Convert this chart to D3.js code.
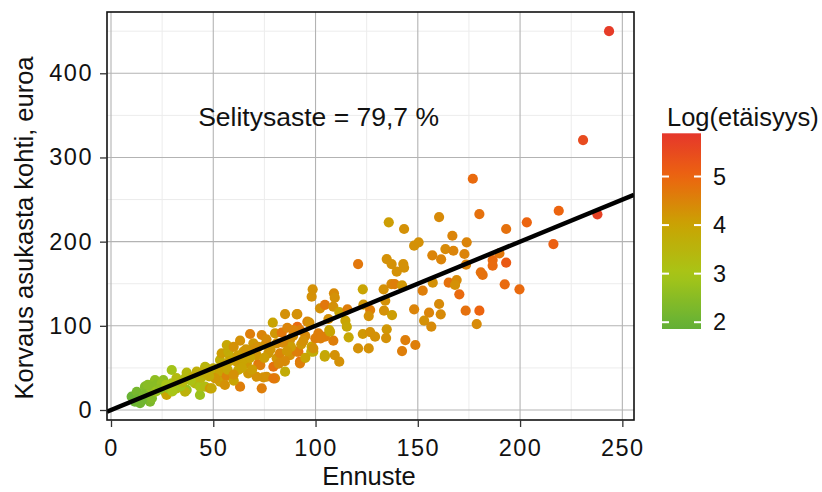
<!DOCTYPE html>
<html>
<head>
<meta charset="utf-8">
<script src="https://cdn.jsdelivr.net/npm/d3@7"></script>
<style>
  body { margin: 0; background: #fff; }
  text { font-family: "Liberation Sans", Arial, sans-serif; fill: #111; }
</style>
</head>
<body>
<svg id="chart"></svg>
<script>
// ennuste (x), toteutunut korvaus (y), log(etäisyys) (väri)
var ennuste = [
  10.1, 11.7, 14.2, 12.6, 13.0, 16.6, 19.9, 18.2, 19.1, 21.5,
  22.3, 25.6, 24.8, 16.0, 15.0, 20.0, 22.0, 26.4, 27.2, 29.7,
  29.7, 32.1, 33.7, 28.0, 30.0, 36.2, 37.0, 37.0, 36.2, 40.3,
  41.1, 41.9, 43.5, 43.5, 46.0, 46.0, 46.8, 48.4, 49.2, 50.9,
  52.5, 53.3, 39.0, 34.0, 44.0, 24.0, 18.0,
  50.0, 53.3, 50.9, 56.6, 55.7, 63.1, 73.7, 62.2, 67.1, 71.2,
  74.5, 80.2, 85.1, 76.1, 79.4, 79.4, 72.0, 53.3, 55.7, 61.5,
  66.4, 73.0, 81.0, 92.4, 54.1, 57.4, 58.2, 64.7, 71.2, 76.9,
  82.6, 87.5, 91.6, 98.1, 98.9, 104.6, 56.6, 63.1, 69.6, 75.3,
  81.0, 68.0, 73.7, 80.2, 83.5, 87.5, 101.4, 104.6, 79.1, 85.1,
  91.1, 96.0, 86.2, 91.1, 98.1, 102.2, 104.6, 90.8, 97.0, 92.4,
  99.9, 102.5, 92.4, 90.8, 97.9, 98.9, 93.0, 88.0, 95.0, 60.0,
  65.0, 70.0, 85.0, 89.0, 76.0, 95.0, 60.0, 89.2,
  58.0, 62.0, 66.0, 68.0, 72.0, 75.0, 78.0, 84.0, 86.0, 64.0,
  69.0, 57.0, 48.0, 45.0, 32.0, 27.0, 35.0, 60.0, 82.0, 94.0,
  104.5, 109.4, 111.6, 108.7, 116.2, 123.1, 126.7, 129.1, 134.8, 134.5,
  143.9, 148.8, 142.3, 120.8, 126.0, 106.7, 114.6, 115.3, 107.1, 106.3,
  108.7, 111.6, 115.6, 123.4, 126.7, 126.0, 134.1, 133.5, 137.4, 148.2,
  155.5, 160.4, 161.2, 153.1, 156.6, 173.4, 180.1, 178.8, 98.6, 109.0,
  109.4, 123.1, 133.3, 137.1, 138.7, 142.3, 152.4, 157.3, 165.1, 169.0,
  168.2, 170.3, 192.5, 199.7, 120.8, 134.8, 137.2, 142.9, 143.3, 139.7,
  135.8, 143.3, 148.2, 150.4, 160.4, 166.9, 173.9, 163.5, 167.4, 157.1,
  161.4, 172.8, 173.6, 176.9, 180.1, 189.9, 186.6, 186.6, 193.2, 180.8,
  181.7, 193.2, 203.3, 218.9, 216.3, 237.8, 230.8, 243.5
];
var korvaus = [
  15.8, 9.9, 8.0, 21.7, 13.0, 27.7, 23.8, 17.8, 9.9, 35.6,
  30.0, 35.6, 31.7, 18.0, 11.0, 14.0, 22.0, 21.7, 17.8, 31.7,
  47.5, 25.8, 31.7, 26.0, 22.0, 37.6, 23.8, 44.3, 21.7, 39.5,
  31.7, 45.5, 17.8, 27.7, 27.7, 51.4, 49.5, 25.8, 25.8, 41.6,
  41.6, 33.6, 35.0, 28.0, 38.0, 25.0, 30.0,
  49.5, 45.5, 37.6, 40.4, 29.7, 27.7, 25.8, 47.5, 43.6, 39.5,
  38.8, 37.6, 45.5, 39.5, 51.4, 37.6, 54.6, 59.4, 53.4, 57.4,
  55.4, 53.4, 61.4, 57.4, 67.3, 69.3, 63.3, 69.3, 65.3, 67.3,
  67.3, 65.3, 69.3, 75.2, 69.3, 65.3, 77.2, 82.3, 79.2, 77.2,
  79.2, 90.3, 89.1, 91.0, 91.8, 83.1, 91.0, 87.1, 103.7, 114.0,
  114.0, 104.9, 97.7, 98.9, 134.6, 120.8, 125.0, 113.7, 103.7, 95.0,
  85.1, 85.1, 55.4, 69.3, 69.3, 73.2, 78.0, 75.0, 62.0, 35.0,
  60.0, 72.0, 58.0, 88.0, 84.0, 88.0, 75.0, 95.0,
  58.0, 65.0, 72.0, 62.0, 75.0, 62.0, 72.0, 80.0, 70.0, 50.0,
  48.0, 48.0, 40.0, 45.0, 38.0, 30.0, 33.0, 42.0, 55.0, 82.0,
  63.3, 65.3, 57.4, 82.3, 86.3, 90.3, 92.6, 87.1, 95.8, 85.5,
  83.1, 77.2, 70.0, 73.2, 73.2, 95.0, 106.1, 98.9, 93.0, 108.1,
  122.7, 116.4, 119.6, 125.1, 118.8, 111.6, 129.8, 118.0, 112.8, 119.6,
  115.6, 125.9, 113.7, 106.1, 99.0, 118.0, 118.0, 102.1, 143.3, 138.6,
  133.4, 143.3, 143.3, 149.6, 149.6, 148.1, 141.7, 151.2, 151.2, 154.4,
  148.5, 137.4, 149.3, 143.3, 173.4, 179.3, 173.4, 173.4, 169.0, 164.3,
  222.9, 215.0, 195.2, 199.2, 229.2, 207.0, 199.2, 191.2, 189.2, 183.7,
  179.0, 185.3, 172.6, 274.7, 232.8, 186.0, 178.1, 171.4, 175.0, 163.5,
  160.5, 215.0, 222.9, 236.7, 197.1, 232.4, 320.7, 450.0
];
var logEtaisyys = [
  2.0, 2.0, 2.1, 2.2, 2.1, 2.4, 2.5, 2.7, 2.3, 2.6,
  2.5, 2.6, 2.7, 2.3, 2.1, 2.4, 2.8, 3.0, 4.0, 3.1,
  2.9, 3.3, 3.7, 2.7, 3.0, 3.3, 2.7, 3.4, 3.6, 3.9,
  3.4, 3.7, 2.8, 3.1, 3.3, 3.5, 3.5, 4.2, 3.9, 3.7,
  4.5, 4.1, 3.1, 2.9, 3.5, 2.6, 2.5,
  3.7, 4.0, 4.2, 4.5, 4.3, 4.6, 4.6, 3.9, 4.2, 4.3,
  4.3, 4.4, 3.8, 4.3, 4.8, 4.7, 4.7, 3.7, 4.0, 4.1,
  4.2, 4.6, 4.2, 4.8, 4.1, 3.8, 3.8, 4.1, 4.2, 4.2,
  4.5, 4.3, 4.8, 4.0, 3.9, 3.7, 3.9, 4.3, 4.2, 4.2,
  4.3, 4.6, 4.5, 4.2, 4.7, 4.3, 4.6, 4.6, 4.0, 4.3,
  4.5, 4.5, 4.5, 4.9, 4.3, 4.3, 4.7, 4.3, 4.3, 4.6,
  4.6, 4.6, 4.6, 4.6, 3.7, 4.3, 4.2, 4.1, 4.0, 4.0,
  4.0, 4.3, 4.4, 4.3, 4.4, 4.4, 4.3, 4.5,
  4.0, 4.1, 4.2, 4.0, 4.3, 4.1, 4.2, 4.4, 4.2, 4.0,
  4.1, 3.9, 3.8, 3.7, 3.3, 3.0, 3.4, 4.3, 4.4, 4.3,
  3.9, 4.3, 4.3, 4.6, 3.9, 4.2, 4.3, 4.3, 4.2, 4.3,
  4.6, 4.6, 4.6, 4.3, 4.3, 4.0, 4.0, 3.9, 4.0, 4.3,
  4.3, 4.0, 4.6, 4.2, 4.6, 4.3, 4.3, 4.3, 4.1, 4.5,
  4.5, 4.4, 4.4, 4.3, 4.4, 4.8, 5.0, 4.4, 4.3, 4.4,
  4.3, 4.0, 4.3, 4.4, 4.6, 4.2, 4.6, 4.3, 4.8, 4.4,
  4.3, 4.9, 4.9, 4.9, 4.7, 4.3, 4.3, 4.3, 4.3, 4.3,
  4.1, 4.3, 4.3, 4.3, 4.4, 4.5, 4.5, 4.4, 4.5, 4.5,
  4.5, 4.5, 4.5, 4.9, 4.8, 4.7, 4.9, 4.9, 5.2, 4.8,
  4.8, 4.8, 5.0, 5.0, 5.1, 5.7, 5.5, 5.8
];

var xTicks = [0, 50, 100, 150, 200, 250];
var yTicks = [0, 100, 200, 300, 400];
var legendTicks = [2, 3, 4, 5];
var legendRange = [1.86, 5.89];
var colorStops = [1.86, 2, 3, 4, 5, 5.89];
var colorValues = ['#63af36', '#69b334', '#a8c516', '#c9a403', '#ec640f', '#e5372b'];

var vakio = 0, kulmakerroin = 1;
var selitysaste = 79.7;

(function(){
  var width = 822, height = 492;
  var pLeft = 107, pRight = 634, pTop = 12, pBottom = 420;

  var svg = d3.select('#chart').attr('width', width).attr('height', height);

  var x = d3.scaleLinear().domain([-1.956, 255.7]).range([pLeft, pRight]);
  var y = d3.scaleLinear().domain([-11.88, 472.8]).range([pBottom, pTop]);
  var color = d3.scaleLinear().domain(colorStops).range(colorValues);

  // minor grid
  var minorX = d3.range(25, 256, 50), minorY = d3.range(50, 472, 100);
  svg.append('g').selectAll('line').data(minorX).enter().append('line')
    .attr('x1', x).attr('x2', x).attr('y1', pTop).attr('y2', pBottom)
    .attr('stroke', '#ececec').attr('stroke-width', 1);
  svg.append('g').selectAll('line').data(minorY).enter().append('line')
    .attr('y1', y).attr('y2', y).attr('x1', pLeft).attr('x2', pRight)
    .attr('stroke', '#ececec').attr('stroke-width', 1);

  // major grid
  svg.append('g').selectAll('line').data(xTicks).enter().append('line')
    .attr('x1', x).attr('x2', x).attr('y1', pTop).attr('y2', pBottom)
    .attr('stroke', '#b3b3b3').attr('stroke-width', 1.1);
  svg.append('g').selectAll('line').data(yTicks).enter().append('line')
    .attr('y1', y).attr('y2', y).attr('x1', pLeft).attr('x2', pRight)
    .attr('stroke', '#b3b3b3').attr('stroke-width', 1.1);

  svg.append('clipPath').attr('id', 'panel').append('rect')
    .attr('x', pLeft).attr('y', pTop).attr('width', pRight - pLeft).attr('height', pBottom - pTop);

  var data = ennuste.map(function(d, i){
    return { x: d, y: korvaus[i], c: logEtaisyys[i] };
  });

  svg.append('g').attr('clip-path', 'url(#panel)')
    .selectAll('circle').data(data).enter().append('circle')
    .attr('cx', function(d){ return x(d.x); })
    .attr('cy', function(d){ return y(d.y); })
    .attr('r', 5.1)
    .attr('fill', function(d){ return color(d.c); });

  // regressiosuora
  var xd = x.domain();
  svg.append('line').attr('clip-path', 'url(#panel)')
    .attr('x1', x(xd[0])).attr('y1', y(vakio + kulmakerroin * xd[0]))
    .attr('x2', x(xd[1])).attr('y2', y(vakio + kulmakerroin * xd[1]))
    .attr('stroke', '#000').attr('stroke-width', 4.5);

  svg.append('text')
    .attr('x', x(101.5)).attr('y', y(337.5))
    .attr('text-anchor', 'middle').style('font-size', '26.5px')
    .text('Selitysaste = ' + String(selitysaste).replace('.', ',') + ' %');

  // panel border
  svg.append('rect').attr('x', pLeft).attr('y', pTop)
    .attr('width', pRight - pLeft).attr('height', pBottom - pTop)
    .attr('fill', 'none').attr('stroke', '#111').attr('stroke-width', 1.6);

  var xAxis = svg.append('g').attr('transform', 'translate(0,' + pBottom + ')')
    .call(d3.axisBottom(x).tickValues(xTicks).tickSize(7).tickPadding(12));
  var yAxis = svg.append('g').attr('transform', 'translate(' + pLeft + ',0)')
    .call(d3.axisLeft(y).tickValues(yTicks).tickSize(7).tickPadding(7));
  [xAxis, yAxis].forEach(function(g){
    g.select('.domain').remove();
    g.selectAll('.tick line').attr('stroke', '#333').attr('stroke-width', 1.3);
    g.selectAll('.tick text').attr('fill', '#111')
      .style('font-family', '"Liberation Sans", Arial, sans-serif')
      .style('font-size', '23.5px').style('letter-spacing', '1.5px');
  });

  svg.append('text').attr('x', 369).attr('y', 485)
    .attr('text-anchor', 'middle').style('font-size', '25.5px').text('Ennuste');
  svg.append('text').attr('transform', 'translate(33,228) rotate(-90)')
    .attr('text-anchor', 'middle').style('font-size', '25.5px')
    .text('Korvaus asukasta kohti, euroa');

  // legend
  var lx = 662, lw = 39;
  var ly = d3.scaleLinear().domain(legendRange).range([329, 133.3]);
  var grad = svg.append('defs').append('linearGradient').attr('id', 'grad')
    .attr('x1', 0).attr('y1', 1).attr('x2', 0).attr('y2', 0);
  d3.range(0, 1.0001, 0.05).forEach(function(t){
    var v = legendRange[0] + t * (legendRange[1] - legendRange[0]);
    grad.append('stop').attr('offset', t).attr('stop-color', color(v));
  });
  svg.append('text').attr('x', 667).attr('y', 126).style('font-size', '25.5px').text('Log(etäisyys)');
  svg.append('rect').attr('x', lx).attr('y', ly.range()[1])
    .attr('width', lw).attr('height', ly.range()[0] - ly.range()[1])
    .attr('fill', 'url(#grad)');
  var lt = svg.append('g').selectAll('g').data(legendTicks).enter().append('g');
  lt.append('line').attr('x1', lx).attr('x2', lx + 7)
    .attr('y1', ly).attr('y2', ly).attr('stroke', '#fff').attr('stroke-width', 2);
  lt.append('line').attr('x1', lx + lw - 7).attr('x2', lx + lw)
    .attr('y1', ly).attr('y2', ly).attr('stroke', '#fff').attr('stroke-width', 2);
  lt.append('text').attr('x', 713).attr('y', ly).attr('dy', '0.35em')
    .style('font-size', '23.5px').text(function(d){ return d; });
})();
</script>
</body>
</html>
